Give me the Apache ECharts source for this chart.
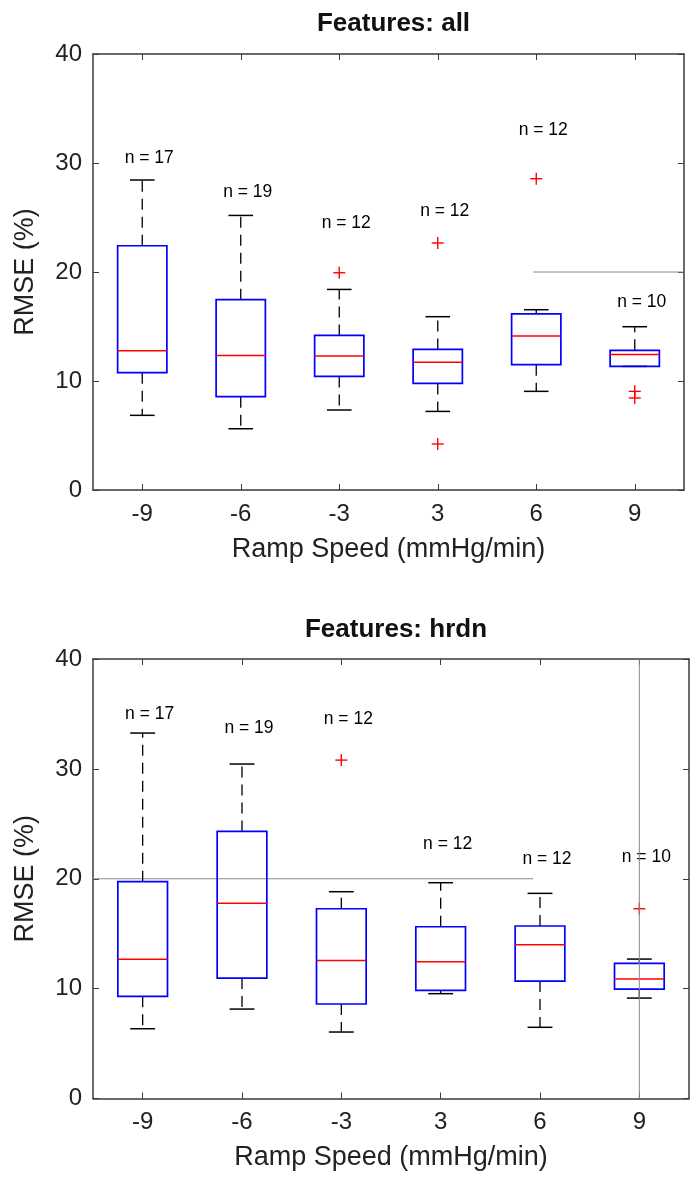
<!DOCTYPE html>
<html>
<head>
<meta charset="utf-8">
<script src="https://cdn.jsdelivr.net/npm/echarts@6/dist/echarts.min.js"></script>
<style>html,body{margin:0;padding:0;background:#fff}#c{width:699px;height:1182px}</style>
</head>
<body>
<div id="c"></div>
<script>
// ---------- data ----------
const categories = ['-9', '-6', '-3', '3', '6', '9'];
const yTicks = [0, 10, 20, 30, 40];

// Features: all
const allLow  = [6.85, 5.62, 7.34, 7.21, 9.05, 11.34];
const allQ1   = [10.76, 8.56, 10.42, 9.78, 11.50, 11.34];
const allMed  = [12.78, 12.35, 12.29, 11.71, 14.13, 12.44];
const allQ3   = [22.41, 17.46, 14.18, 12.90, 16.15, 12.81];
const allHigh = [28.44, 25.19, 18.40, 15.90, 16.54, 14.98];
const allOutliers = [[2, 19.93], [3, 22.66], [3, 4.22], [4, 28.56], [5, 9.05], [5, 8.44]];
const allN = [17, 19, 12, 12, 12, 10];
const allNLabelAt = [30.4, 27.3, 24.5, 25.6, 33.0, 17.25];
const allRefLine = [[3.97, 20], [5.5, 20]];

// Features: hrdn
const hrLow  = [6.35, 8.14, 6.05, 9.54, 6.48, 9.14];
const hrQ1   = [9.30, 10.96, 8.60, 9.84, 10.69, 9.96];
const hrMed  = [12.67, 17.76, 12.57, 12.45, 14.00, 10.87];
const hrQ3   = [19.73, 24.31, 17.27, 15.63, 15.70, 12.30];
const hrHigh = [33.26, 30.44, 18.82, 19.64, 18.67, 12.69];
const hrOutliers = [[2, 30.80], [5, 17.27]];
const hrN = [17, 19, 12, 12, 12, 10];
const hrNLabelAt = [35.0, 33.7, 34.56, 23.19, 21.82, 21.95];
const hrRefLineH = [[-0.5, 20], [3.93, 20]];
const hrRefLineV = [[5, 0], [5, 40]];

// ---------- styles ----------
const FONT = '"Liberation Sans", Arial, Helvetica, sans-serif';
const AXIS_COLOR = '#3a3a3a';
const TEXT_COLOR = '#222';

function boxData(low, q1, med, q3, high) {
  return categories.map((c, i) => [i, low[i], q1[i], med[i], q3[i], high[i]]);
}
function labelData(at, n) {
  return categories.map((c, i) => [i, at[i], n[i]]);
}

function renderBox(params, api) {
  const i = api.value(0);
  const band = api.size([1, 0])[0];
  const P = v => api.coord([i, v]);
  const x = P(api.value(3))[0];
  const yl = P(api.value(1))[1], yq1 = P(api.value(2))[1], ym = P(api.value(3))[1];
  const yq3 = P(api.value(4))[1], yh = P(api.value(5))[1];
  const bw = band / 2, cw = band / 4;
  const kids = [];
  const dash = { stroke: '#000', lineWidth: 1.3, lineDash: [11, 7] };
  if (yh < yq3 - 0.5) {
    kids.push({ type: 'line', shape: { x1: x, y1: yq3, x2: x, y2: yh }, style: dash });
  }
  if (yl > yq1 + 0.5) {
    kids.push({ type: 'line', shape: { x1: x, y1: yq1, x2: x, y2: yl }, style: dash });
  }
  kids.push({ type: 'line', shape: { x1: x - cw / 2, y1: yh, x2: x + cw / 2, y2: yh }, style: { stroke: '#000', lineWidth: 1.5 } });
  kids.push({ type: 'line', shape: { x1: x - cw / 2, y1: yl, x2: x + cw / 2, y2: yl }, style: { stroke: '#000', lineWidth: 1.5 } });
  kids.push({ type: 'rect', shape: { x: x - bw / 2, y: yq3, width: bw, height: yq1 - yq3 }, style: { fill: 'none', stroke: '#0000ff', lineWidth: 1.7 } });
  kids.push({ type: 'line', shape: { x1: x - bw / 2, y1: ym, x2: x + bw / 2, y2: ym }, style: { stroke: '#ff0000', lineWidth: 1.5 } });
  return { type: 'group', children: kids };
}

function renderPlus(params, api) {
  const p = api.coord([api.value(0), api.value(1)]);
  const s = 6;
  return {
    type: 'group', children: [
      { type: 'line', shape: { x1: p[0] - s, y1: p[1], x2: p[0] + s, y2: p[1] }, style: { stroke: '#ff0000', lineWidth: 1.4 } },
      { type: 'line', shape: { x1: p[0], y1: p[1] - s, x2: p[0], y2: p[1] + s }, style: { stroke: '#ff0000', lineWidth: 1.4 } }
    ]
  };
}

function renderLabel(params, api) {
  const p = api.coord([api.value(0), api.value(1)]);
  return {
    type: 'text', x: p[0] + 7, y: p[1],
    style: { text: 'n = ' + api.value(2), fill: '#000', font: '17.5px ' + FONT, align: 'center', verticalAlign: 'middle' }
  };
}

function catAxis(gridIndex, top) {
  return {
    type: 'category', gridIndex, data: categories, position: top ? 'top' : 'bottom',
    boundaryGap: true,
    axisLine: { show: true, onZero: false, lineStyle: { color: AXIS_COLOR, width: 1.5 } },
    axisTick: { show: true, inside: true, alignWithLabel: true, length: 6, lineStyle: { color: AXIS_COLOR, width: 1 } },
    axisLabel: top ? { show: false } : { show: true, margin: 12, fontSize: 24, color: TEXT_COLOR, fontFamily: FONT },
    name: top ? '' : 'Ramp Speed (mmHg/min)',
    nameLocation: 'middle', nameGap: 46,
    nameTextStyle: { fontSize: 27, color: TEXT_COLOR, fontFamily: FONT },
    splitLine: { show: false }
  };
}
function hiddenValX(gridIndex) {
  return { type: 'value', gridIndex, min: -0.5, max: 5.5, show: false, splitLine: { show: false } };
}
function valAxis(gridIndex, right) {
  return {
    type: 'value', gridIndex, min: yTicks[0], max: yTicks[yTicks.length - 1], interval: 10,
    position: right ? 'right' : 'left',
    axisLine: { show: true, onZero: false, lineStyle: { color: AXIS_COLOR, width: 1.5 } },
    axisTick: { show: true, inside: true, length: 6, lineStyle: { color: AXIS_COLOR, width: 1 } },
    axisLabel: right ? { show: false } : { show: true, margin: 11, fontSize: 24, color: TEXT_COLOR, fontFamily: FONT, padding: [0, 0, 7, 0] },
    name: right ? '' : 'RMSE (%)', nameLocation: 'middle', nameGap: 54,
    nameTextStyle: { fontSize: 27, color: TEXT_COLOR, fontFamily: FONT },
    splitLine: { show: false }
  };
}

const refLineStyle = { color: '#8a8a8a', width: 1 };

const option = {
  backgroundColor: '#fff',
  animation: false,
  title: [
    { text: 'Features: all', left: 388.5, top: 6, textAlign: 'center',
      textStyle: { fontSize: 26, fontWeight: 'bold', color: '#111', fontFamily: FONT } },
    { text: 'Features: hrdn', left: 391, top: 612, textAlign: 'center',
      textStyle: { fontSize: 26, fontWeight: 'bold', color: '#111', fontFamily: FONT } }
  ],
  grid: [
    { left: 93, top: 54, width: 591, height: 436, containLabel: false },
    { left: 93, top: 659, width: 596, height: 439.5, containLabel: false }
  ],
  xAxis: [catAxis(0, false), catAxis(0, true), hiddenValX(0), catAxis(1, false), catAxis(1, true), hiddenValX(1)],
  yAxis: [valAxis(0, false), valAxis(0, true), valAxis(1, false), valAxis(1, true)],
  series: [
    // top chart
    { type: 'line', xAxisIndex: 2, yAxisIndex: 0, data: allRefLine, symbol: 'none', lineStyle: refLineStyle, z: 1, silent: true },
    { type: 'custom', xAxisIndex: 0, yAxisIndex: 0, data: boxData(allLow, allQ1, allMed, allQ3, allHigh), renderItem: renderBox, encode: { x: 0, y: [1, 2, 3, 4, 5] }, z: 3 },
    { type: 'custom', xAxisIndex: 0, yAxisIndex: 0, data: allOutliers, renderItem: renderPlus, encode: { x: 0, y: 1 }, z: 4 },
    { type: 'custom', xAxisIndex: 0, yAxisIndex: 0, data: labelData(allNLabelAt, allN), renderItem: renderLabel, encode: { x: 0, y: 1 }, z: 4 },
    // bottom chart
    { type: 'line', xAxisIndex: 5, yAxisIndex: 2, data: hrRefLineH, symbol: 'none', lineStyle: refLineStyle, z: 1, silent: true },
    { type: 'custom', xAxisIndex: 3, yAxisIndex: 2, data: boxData(hrLow, hrQ1, hrMed, hrQ3, hrHigh), renderItem: renderBox, encode: { x: 0, y: [1, 2, 3, 4, 5] }, z: 3 },
    { type: 'custom', xAxisIndex: 3, yAxisIndex: 2, data: hrOutliers, renderItem: renderPlus, encode: { x: 0, y: 1 }, z: 4 },
    { type: 'custom', xAxisIndex: 3, yAxisIndex: 2, data: labelData(hrNLabelAt, hrN), renderItem: renderLabel, encode: { x: 0, y: 1 }, z: 4 },
    { type: 'line', xAxisIndex: 5, yAxisIndex: 2, data: hrRefLineV, symbol: 'none', lineStyle: refLineStyle, z: 5, silent: true }
  ]
};

const chart = echarts.init(document.getElementById('c'), null, { renderer: 'canvas', width: 699, height: 1182 });
chart.setOption(option);
</script>
</body>
</html>
